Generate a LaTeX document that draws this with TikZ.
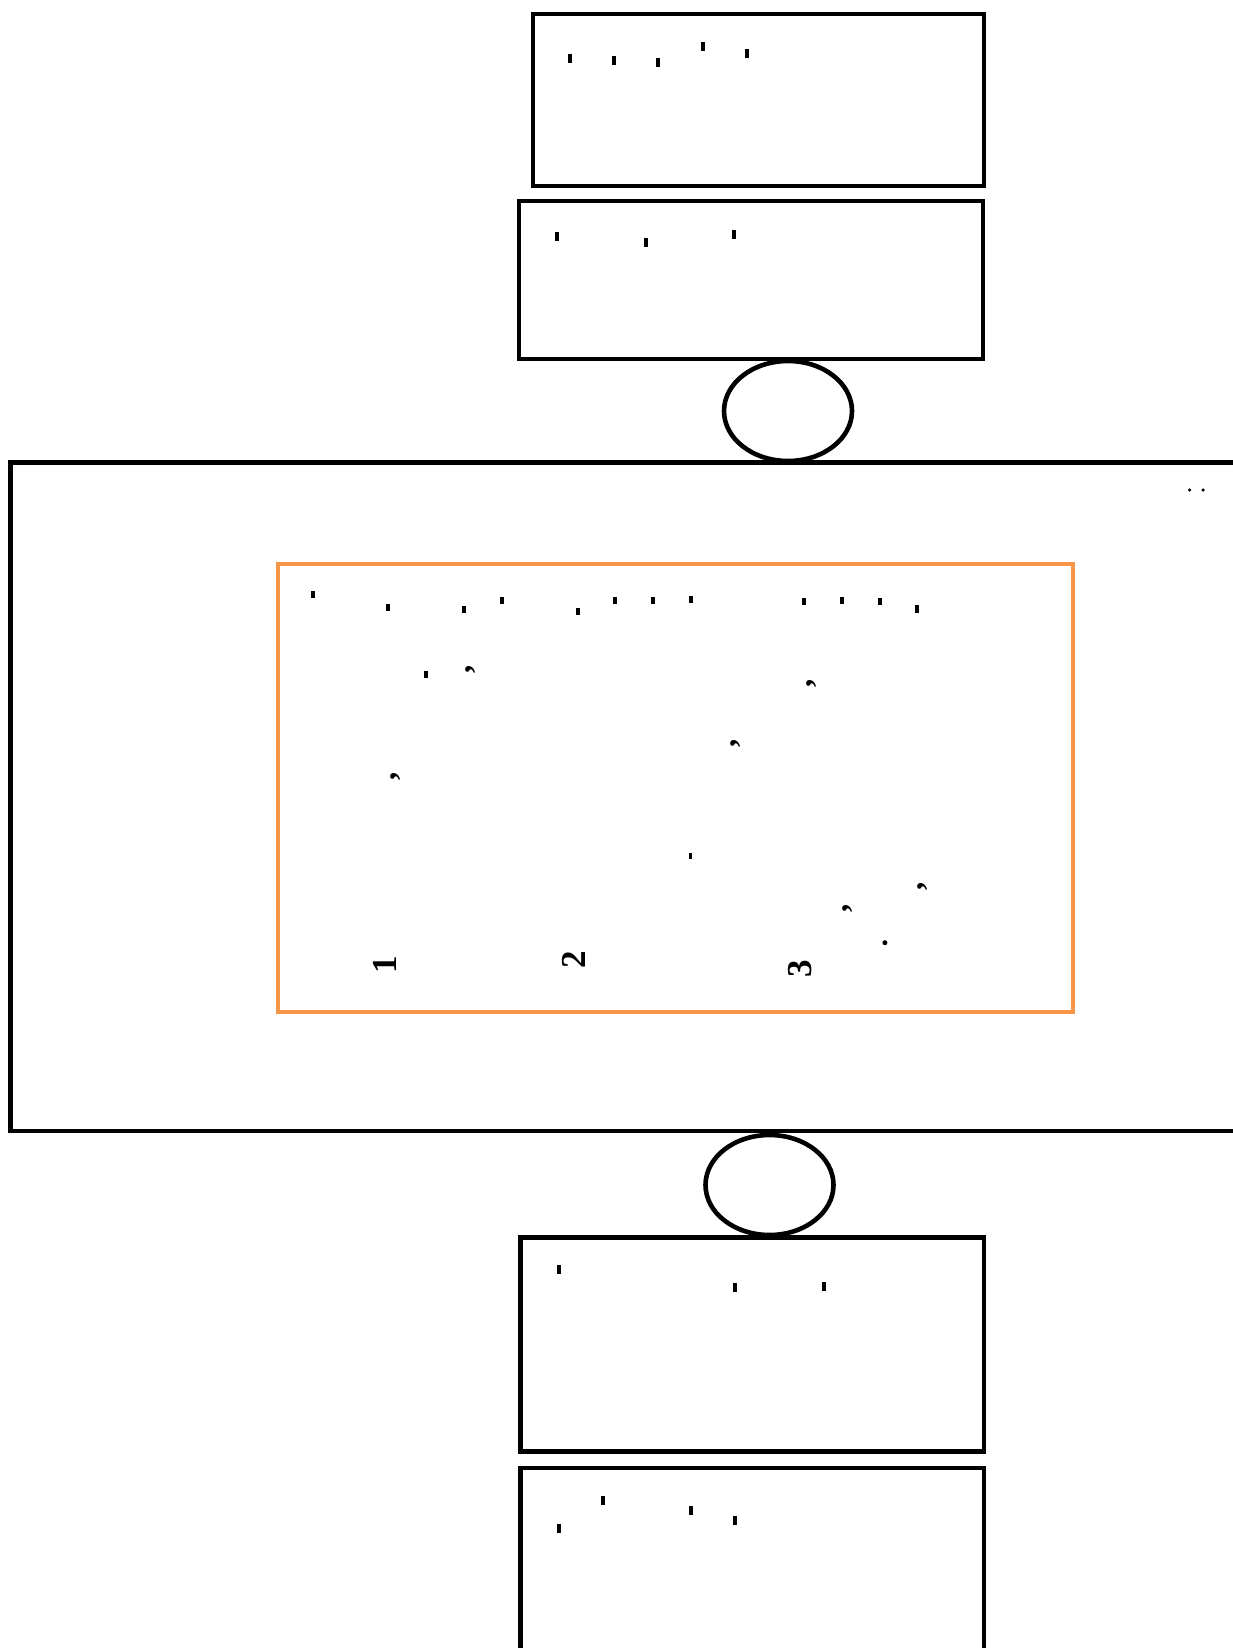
\documentclass[tikz,border=0pt]{standalone}
\usepackage{fontspec}
\setmainfont{Liberation Serif}
\usetikzlibrary{shapes.geometric}
\definecolor{boxorange}{RGB}{247,150,70}
\begin{document}
\begin{tikzpicture}[x=1pt,y=-1pt,
  box/.style={draw=black,line width=4.6pt,inner sep=0pt,rectangle},
  oval/.style={draw=black,line width=4.6pt,ellipse,inner sep=0pt,minimum width=128pt,minimum height=100pt},
  bar/.style={fill=black,inner sep=0pt,minimum width=4pt,minimum height=9pt},
  sbar/.style={fill=black,inner sep=0pt,minimum width=4pt,minimum height=7.5pt},
  dig/.style={inner sep=0pt,rotate=90,font=\fontsize{35}{35}\selectfont\bfseries},
  cma/.style={inner sep=0pt,rotate=90,font=\fontsize{33}{33}\selectfont\bfseries},
  spot/.style={circle,fill=black,inner sep=0pt,minimum size=#1}]
\useasboundingbox (0,0) rectangle (1232,1648);
% top boxes
\node[box,minimum width=451pt,minimum height=172pt] (b1) at (758.5,100) {};
\node[box,minimum width=464pt,minimum height=158pt] (b2) at (751,280) {};
\node[oval] (e1) at (788,411) {};
% big box
\node[box,minimum width=1250pt,minimum height=668.5pt] (big) at (635.5,796.75) {};
\node[draw=boxorange,line width=4.6pt,inner sep=0pt,minimum width=795pt,minimum height=448pt] (orange) at (675.5,788) {};
% lower
\node[oval] (e2) at (769.5,1185) {};
\node[box,minimum width=463.5pt,minimum height=214.5pt] (b3) at (752.3,1344.5) {};
\node[box,minimum width=463.5pt,minimum height=232pt] (b4) at (752.3,1584) {};
% marks in box 1
\node[bar] (m11) at (570,58.7) {};
\node[bar] (m12) at (614.3,60.7) {};
\node[bar] (m13) at (658.3,62.7) {};
\node[bar] (m14) at (702.7,46.7) {};
\node[bar] (m15) at (746.7,53.7) {};
% marks in box 2
\node[bar] (m21) at (557.3,236.7) {};
\node[bar] (m22) at (645.7,242.7) {};
\node[bar] (m23) at (734,234.7) {};
% dots top right
\node[spot=3.5pt] (p1) at (1189.7,490) {};
\node[spot=3.5pt] (p2) at (1203,490) {};
% marks in orange box
\node[sbar] (o1) at (312.5,594.7) {};
\node[sbar] (o2) at (388.3,607.7) {};
\node[sbar] (o3) at (464.0,609.7) {};
\node[sbar] (o4) at (501.5,600.3) {};
\node[sbar] (o5) at (577.7,611.7) {};
\node[sbar] (o6) at (615.1,600.3) {};
\node[sbar] (o7) at (653.0,600.3) {};
\node[sbar] (o8) at (690.5,599.7) {};
\node[sbar] (o9) at (803.7,601.7) {};
\node[sbar] (o10) at (841.6,600.3) {};
\node[sbar] (o11) at (879.5,601.7) {};
\node[sbar] (o12) at (916.9,609) {};
\node[sbar] (o13) at (426,674.3) {};
\node[sbar,minimum width=3pt,minimum height=6pt] (o14) at (690.3,856) {};
% commas
\node[cma] (c1) at (471,669.3) {,};
\node[cma] (c2) at (811.3,683.3) {,};
\node[cma] (c3) at (735.7,743.3) {,};
\node[cma] (c4) at (395.7,776) {,};
\node[cma] (c5) at (922.8,886) {,};
\node[cma] (c6) at (848.1,908.3) {,};
\node[spot=5pt] (p3) at (884.9,942.7) {};
% digits
\node[dig] (d1) at (385,965) {1};
\node[dig] (d2) at (574.1,960) {2};
\node[dig] (d3) at (800,969) {3};
% marks in box 3
\node[bar] (m31) at (559,1269.3) {};
\node[bar] (m32) at (735.3,1287.7) {};
\node[bar] (m33) at (824,1286.7) {};
% marks in box 4
\node[bar] (m41) at (559,1528.7) {};
\node[bar] (m42) at (603.3,1500.7) {};
\node[bar] (m43) at (691.3,1510.7) {};
\node[bar] (m44) at (735.3,1520.7) {};
\end{tikzpicture}
\end{document}
